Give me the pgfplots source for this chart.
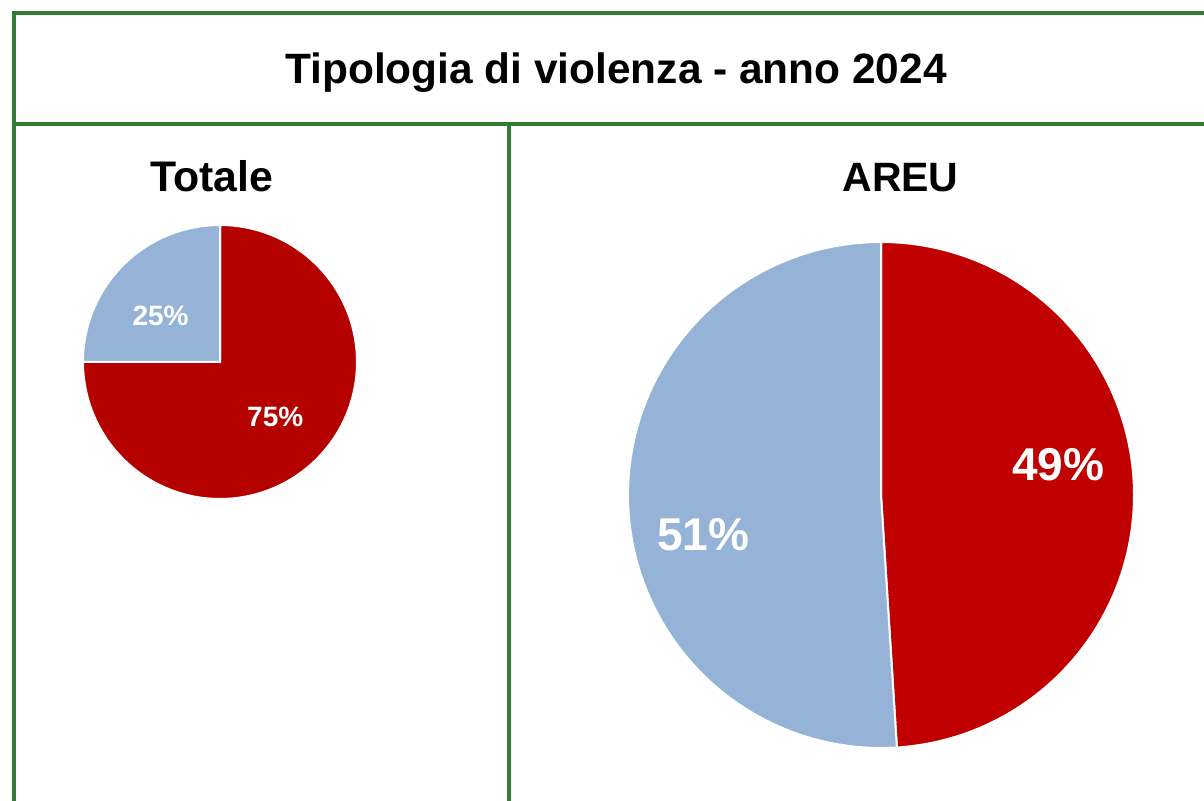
\documentclass[border=0pt]{standalone}
\usepackage{fontspec}
\setmainfont{Liberation Sans}
\usepackage{pgfplots}
\usepackage{pgfplotstable}
\pgfplotsset{compat=1.18}
\usepgfplotslibrary{polar}
\definecolor{frameg}{RGB}{46,125,50}
\definecolor{redA}{RGB}{192,0,0}
\definecolor{redT}{RGB}{181,0,0}
\definecolor{blueP}{RGB}{149,179,215}

% Tipologia di violenza - anno 2024 (percentuali)
\pgfplotstableread{
tipo val
rosso 75
blu 25
}\totale
\pgfplotstableread{
tipo val
rosso 49
blu 51
}\areu

\begin{document}
\begin{tikzpicture}
\pgfplotstablegetelem{0}{val}\of\totale \let\tA\pgfplotsretval
\pgfplotstablegetelem{1}{val}\of\totale \let\tB\pgfplotsretval
\pgfplotstablegetelem{0}{val}\of\areu \let\aA\pgfplotsretval
\pgfplotstablegetelem{1}{val}\of\areu \let\aB\pgfplotsretval
\pgfmathsetmacro{\tAstart}{90-3.6*\tA}
\pgfmathsetmacro{\tBend}{90+3.6*\tB}
\pgfmathsetmacro{\aAstart}{90-3.6*\aA}
\pgfmathsetmacro{\aBend}{90+3.6*\aB}

\path[use as bounding box] (0,0) rectangle (602pt,400.5pt);

% frame
\draw[frameg, line width=2pt] (6.85pt,0) -- (6.85pt,393.75pt) -- (602pt,393.75pt);
\draw[frameg, line width=2pt] (6.85pt,338.25pt) -- (602pt,338.25pt);
\draw[frameg, line width=2pt] (254.5pt,338.25pt) -- (254.5pt,0);

% titles
\node[anchor=base, font=\bfseries\fontsize{21.2}{25}\selectfont] at (308pt,358.5pt) {Tipologia di violenza - anno 2024};
\node[anchor=base, font=\bfseries\fontsize{21.4}{25}\selectfont] at (106pt,304.5pt) {Totale};
\node[anchor=base, font=\bfseries\fontsize{20.5}{25}\selectfont] at (450.25pt,304.5pt) {AREU};

% Totale pie
\begin{polaraxis}[at={(110pt,219.5pt)}, anchor=center, width=137pt, height=137pt,
  scale only axis, hide axis, ymin=0, ymax=1, clip=false]
\addplot[draw=white, line width=1pt, fill=redT, domain=\tAstart:90, samples=150] {1} -- (axis cs:0,0) -- cycle;
\addplot[draw=white, line width=1pt, fill=blueP, domain=90:\tBend, samples=80] {1} -- (axis cs:0,0) -- cycle;
\node[white, font=\bfseries\fontsize{14}{16}\selectfont] at (axis cs:142,0.55) {\tB\%};
\node[white, font=\bfseries\fontsize{14}{16}\selectfont] at (axis cs:-45,0.57) {\tA\%};
\end{polaraxis}

% AREU pie
\begin{polaraxis}[at={(440.5pt,153pt)}, anchor=center, width=253pt, height=253pt,
  scale only axis, hide axis, ymin=0, ymax=1, clip=false]
\addplot[draw=white, line width=1pt, fill=redA, domain=\aAstart:90, samples=150] {1} -- (axis cs:0,0) -- cycle;
\addplot[draw=white, line width=1pt, fill=blueP, domain=90:\aBend, samples=150] {1} -- (axis cs:0,0) -- cycle;
\node[white, font=\bfseries\fontsize{23}{27}\selectfont] at (axis cs:9.6,0.71) {\aA\%};
\node[white, font=\bfseries\fontsize{23}{27}\selectfont] at (axis cs:192.6,0.72) {\aB\%};
\end{polaraxis}
\end{tikzpicture}
\end{document}
